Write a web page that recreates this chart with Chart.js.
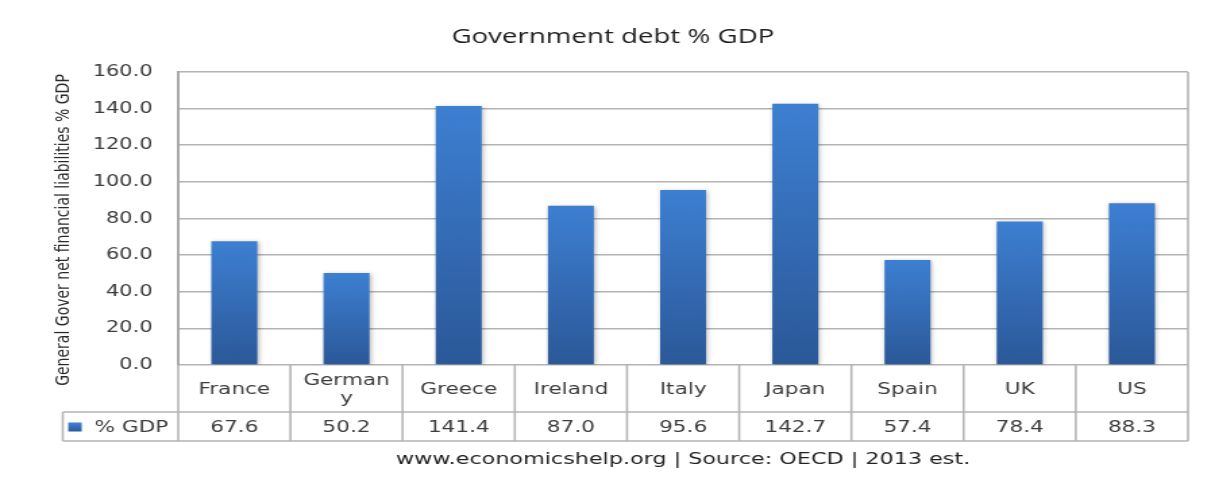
<!DOCTYPE html>
<html>
<head>
<meta charset="utf-8">
<script src="https://cdn.jsdelivr.net/npm/chart.js@4/dist/chart.umd.min.js"></script>
<style>
  html, body { margin: 0; padding: 0; background: #fff; overflow: hidden; }
  #wrap { width: 1215px; height: 486px; overflow: hidden; background: #fff; }
  /* the chart is laid out on a 900px canvas and widened to the full 1215px page */
  #c { display: block; width: 900px; height: 486px; transform: scaleX(1.35); transform-origin: 0 0; }
</style>
</head>
<body>
<div id="wrap"><canvas id="c" width="900" height="486"></canvas></div>
<script>
// ---- data ----
const countries = ['France', 'Germany', 'Greece', 'Ireland', 'Italy', 'Japan', 'Spain', 'UK', 'US'];
const debtPct = [67.6, 50.2, 141.4, 87.0, 95.6, 142.7, 57.4, 78.4, 88.3];
const yTicks = [0, 20, 40, 60, 80, 100, 120, 140, 160];
const seriesName = '% GDP';
const chartTitle = 'Government debt % GDP';
const yAxisTitle = 'General Gover net financial liabilities % GDP';
const footerText = 'www.economicshelp.org | Source: OECD | 2013 est.';

// ---- layout & style ----
const PLOT_LEFT = 132;       // width reserved for the value axis
const PLOT_TOP = 72;
const PLOT_BOTTOM_PAD = 121;
const PLOT_RIGHT_PAD = 20;
const HEAD_ROW_H = 47;       // category row of the data table
const VALUE_ROW_H = 29;      // value row of the data table
const LEGEND_LEFT = 46.5;    // left edge of the series-name cell
const GRID = '#b4b4b4';
const TEXT = '#3c3c3c';
const TABLE_FONT = '16px "DejaVu Sans"';
const BAR_TOP = '#3d7fd2';
const BAR_BOTTOM = '#2b5898';

function barFill(ctx) {
  const chart = ctx.chart;
  const y = chart.scales && chart.scales.y;
  if (ctx.type !== 'data' || !y || !ctx.parsed) return BAR_BOTTOM;
  const top = y.getPixelForValue(ctx.parsed.y);
  const bottom = y.getPixelForValue(0);
  if (!isFinite(top) || !isFinite(bottom) || top === bottom) return BAR_BOTTOM;
  const g = chart.ctx.createLinearGradient(0, top, 0, bottom);
  g.addColorStop(0, BAR_TOP);
  g.addColorStop(1, BAR_BOTTOM);
  return g;
}

// soft shadow behind the bars
const barShadow = {
  id: 'barShadow',
  beforeDatasetsDraw(chart) {
    const c = chart.ctx;
    c.save();
    c.shadowColor = 'rgba(0,0,0,0.28)';
    c.shadowBlur = 4;
    c.shadowOffsetX = 1;
    c.shadowOffsetY = 1;
  },
  afterDatasetsDraw(chart) { chart.ctx.restore(); }
};

// break a label into lines, character by character, to fit a cell
function wrapChars(c, text, maxW) {
  const lines = [];
  let cur = '';
  for (const ch of text) {
    if (cur && c.measureText(cur + ch).width > maxW) { lines.push(cur); cur = ch; }
    else cur += ch;
  }
  if (cur) lines.push(cur);
  return lines;
}

// title, axis title, data table and source line
const chartFrame = {
  id: 'chartFrame',
  afterDraw(chart) {
    const c = chart.ctx;
    const a = chart.chartArea;
    const x = chart.scales.x;
    const n = countries.length;
    const headBottom = a.bottom + HEAD_ROW_H;
    const tableBottom = headBottom + VALUE_ROW_H;

    const centers = countries.map((_, i) => x.getPixelForValue(i));
    const edges = [a.left];
    for (let i = 0; i < n - 1; i++) edges.push((centers[i] + centers[i + 1]) / 2);
    edges.push(a.right);

    c.save();
    // table and frame lines
    c.strokeStyle = GRID;
    c.lineWidth = 1.6;
    c.beginPath();
    edges.forEach((ex, i) => {
      const yTop = (i === edges.length - 1) ? a.top : a.bottom;
      c.moveTo(ex, yTop); c.lineTo(ex, tableBottom);
    });
    c.moveTo(LEGEND_LEFT, headBottom); c.lineTo(a.right, headBottom);
    c.moveTo(LEGEND_LEFT, tableBottom); c.lineTo(a.right, tableBottom);
    c.moveTo(LEGEND_LEFT, headBottom); c.lineTo(LEGEND_LEFT, tableBottom);
    c.stroke();

    // category labels
    c.fillStyle = TEXT;
    c.font = TABLE_FONT;
    c.textAlign = 'center';
    c.textBaseline = 'middle';
    const headMid = a.bottom + HEAD_ROW_H / 2 + 1.5;
    countries.forEach((name, i) => {
      const w = edges[i + 1] - edges[i];
      const lines = wrapChars(c, name, w - 12);
      const lh = 18;
      const y0 = headMid - (lines.length - 1) * lh / 2;
      lines.forEach((ln, k) => c.fillText(ln, centers[i], y0 + k * lh));
    });

    // values
    const valMid = headBottom + VALUE_ROW_H / 2 + 1.5;
    debtPct.forEach((v, i) => c.fillText(v.toFixed(1), centers[i], valMid));

    // series key
    const kg = c.createLinearGradient(0, valMid - 5, 0, valMid + 4);
    kg.addColorStop(0, BAR_TOP);
    kg.addColorStop(1, BAR_BOTTOM);
    c.fillStyle = kg;
    c.fillRect(LEGEND_LEFT + 4, valMid - 5.5, 10, 9);
    c.fillStyle = TEXT;
    c.textAlign = 'left';
    c.fillText(seriesName, LEGEND_LEFT + 23.5, valMid);

    // chart title
    c.fillStyle = '#1e1e1e';
    c.font = '20.5px "Open Sans"';
    c.textAlign = 'center';
    c.fillText(chartTitle, 454, 37);

    // value axis title
    c.save();
    c.translate(47.5, 230);
    c.rotate(-Math.PI / 2);
    c.fillStyle = '#2a2a2a';
    c.font = '14px "DejaVu Sans"';
    c.fillText(yAxisTitle, 0, 0);
    c.restore();

    // source line
    c.fillStyle = '#222';
    c.font = '16.5px "DejaVu Sans"';
    c.fillText(footerText, 506, tableBottom + 19);
    c.restore();
  }
};

new Chart(document.getElementById('c'), {
  type: 'bar',
  data: {
    labels: countries,
    datasets: [{
      label: seriesName,
      data: debtPct,
      backgroundColor: barFill,
      borderWidth: 0,
      barPercentage: 0.41,
      categoryPercentage: 1.0
    }]
  },
  options: {
    responsive: false,
    animation: false,
    devicePixelRatio: 1,
    layout: { padding: { top: PLOT_TOP, bottom: PLOT_BOTTOM_PAD, left: 0, right: PLOT_RIGHT_PAD } },
    plugins: {
      legend: { display: false },
      title: { display: false },
      tooltip: { enabled: false }
    },
    scales: {
      x: {
        type: 'category',
        display: false,
        offset: true
      },
      y: {
        min: 0,
        max: 160,
        afterBuildTicks(s) { s.ticks = yTicks.map(v => ({ value: v })); },
        afterFit(s) { s.width = PLOT_LEFT; },
        ticks: {
          padding: 19,
          color: TEXT,
          font: { family: 'DejaVu Sans', size: 15.5 },
          callback: v => Number(v).toFixed(1)
        },
        grid: { color: GRID, lineWidth: 1.6, drawTicks: false },
        border: { color: '#a8a8a8', width: 2 }
      }
    }
  },
  plugins: [barShadow, chartFrame]
});
</script>
</body>
</html>
